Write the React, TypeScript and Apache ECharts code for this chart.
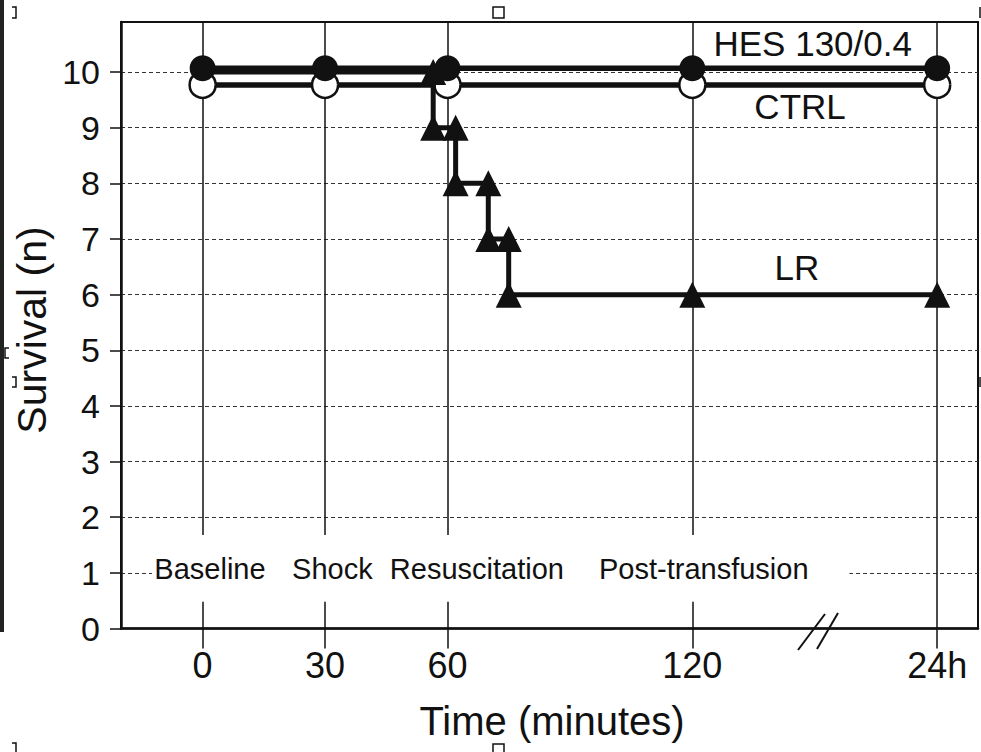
import React, { useEffect, useRef } from "react";
import * as echarts from "echarts";

// ---- data ----
const xTicks = [0, 30, 60, 120, 180];
const xTickLabels = ["0", "30", "60", "120", "24h"];
const yTicks = [0, 1, 2, 3, 4, 5, 6, 7, 8, 9, 10];

const hesTimes = [0, 30, 60, 120, 180];
const hesValues = [10.07, 10.07, 10.07, 10.07, 10.07];

const ctrlTimes = [0, 30, 60, 120, 180];
const ctrlValues = [9.77, 9.77, 9.77, 9.77, 9.77];

const lrTimes = [0, 30, 56.5, 56.5, 62, 62, 70, 70, 75, 75, 120, 180];
const lrValues = [10, 10, 10, 9, 9, 8, 8, 7, 7, 6, 6, 6];
const lrMarked = [false, false, true, true, true, true, true, true, true, true, true, true];

const phaseLabels = ["Baseline", "Shock", "Resuscitation", "Post-transfusion"];
const phaseX = [1.8, 31.8, 67.2, 122.8];
const phaseY = 1.07;

const seriesLabels = ["HES 130/0.4", "CTRL", "LR"];
const seriesLabelX = [149.5, 146.4, 145.6];
const seriesLabelY = [10.52, 9.39, 6.48];

const FONT = "'Liberation Sans', Arial, Helvetica, sans-serif";
const INK = "#111";

export default function App() {
  const ref = useRef<HTMLDivElement>(null);

  useEffect(() => {
    const chart = echarts.init(ref.current!, null, { renderer: "svg" });
    const option: any = {
      animation: false,
      backgroundColor: "#fff",
      grid: {
        left: 121,
        top: 22,
        right: 3,
        bottom: 123.5,
        show: true,
        borderColor: INK,
        borderWidth: 2,
        backgroundColor: "transparent",
      },
      xAxis: {
        type: "value",
        min: -20,
        max: 190,
        axisLine: { show: true, onZero: false, lineStyle: { color: INK, width: 2.5 } },
        axisTick: {
          show: true,
          customValues: xTicks,
          length: 20,
          lineStyle: { color: INK, width: 1.5 },
        },
        axisLabel: {
          customValues: xTicks,
          formatter: (v: number) => {
            const i = xTicks.indexOf(v);
            return i >= 0 ? xTickLabels[i] : "";
          },
          margin: 19,
          fontSize: 36,
          color: INK,
          fontFamily: FONT,
        },
        splitLine: { show: true, lineStyle: { color: INK, width: 1.5 } },
      },
      yAxis: {
        type: "value",
        min: 0,
        max: 10.9,
        interval: 1,
        axisLine: { show: true, onZero: false, lineStyle: { color: INK, width: 2.5 } },
        axisTick: {
          show: true,
          customValues: yTicks,
          length: 11,
          lineStyle: { color: INK, width: 1.5 },
        },
        axisLabel: {
          customValues: yTicks,
          margin: 21,
          fontSize: 34,
          color: INK,
          fontFamily: FONT,
        },
        splitLine: {
          show: true,
          lineStyle: { color: "#333", width: 1.2, type: [4, 3] },
        },
      },
      series: [
        {
          type: "line",
          name: "CTRL",
          data: ctrlTimes.map((t, i) => [t, ctrlValues[i]]),
          symbol: "circle",
          symbolSize: 26,
          showAllSymbol: true,
          lineStyle: { color: INK, width: 5.5 },
          itemStyle: { color: "#fff", borderColor: INK, borderWidth: 2.5 },
          z: 3,
        },
        {
          type: "line",
          name: "LR",
          data: lrTimes.map((t, i) => ({
            value: [t, lrValues[i]],
            symbol: lrMarked[i] ? "triangle" : "none",
          })),
          symbol: "triangle",
          symbolSize: 26,
          showAllSymbol: true,
          lineStyle: { color: INK, width: 5 },
          itemStyle: { color: INK },
          z: 4,
        },
        {
          type: "line",
          name: "HES 130/0.4",
          data: hesTimes.map((t, i) => [t, hesValues[i]]),
          symbol: "circle",
          symbolSize: 26,
          showAllSymbol: true,
          lineStyle: { color: INK, width: 5.5 },
          itemStyle: { color: INK },
          z: 5,
        },
      ],
    };
    chart.setOption(option);

    const px = (x: number, y: number) =>
      chart.convertToPixel({ gridIndex: 0 } as any, [x, y]) as number[];

    const b0 = px(-12.4, 1.68);
    const b1 = px(158.5, 0.48);

    const graphics: any[] = [
      {
        type: "rect",
        z: 1,
        shape: { x: b0[0], y: b0[1], width: b1[0] - b0[0], height: b1[1] - b0[1] },
        style: { fill: "#fff" },
        silent: true,
      },
    ];
    phaseLabels.forEach((t, i) => {
      const p = px(phaseX[i], phaseY);
      graphics.push({
        type: "text",
        z: 2,
        x: p[0],
        y: p[1],
        style: {
          text: t,
          fontSize: 29,
          fontFamily: FONT,
          fill: INK,
          align: "center",
          verticalAlign: "middle",
        },
      });
    });
    seriesLabels.forEach((t, i) => {
      const p = px(seriesLabelX[i], seriesLabelY[i]);
      graphics.push({
        type: "text",
        z: 10,
        x: p[0],
        y: p[1],
        style: {
          text: t,
          fontSize: 35,
          fontFamily: FONT,
          fill: INK,
          align: "center",
          verticalAlign: "middle",
        },
      });
    });
    // axis titles
    graphics.push({
      type: "text",
      z: 10,
      x: 552,
      y: 721,
      style: {
        text: "Time (minutes)",
        fontSize: 40,
        fontFamily: FONT,
        fill: INK,
        align: "center",
        verticalAlign: "middle",
      },
    });
    graphics.push({
      type: "text",
      z: 10,
      x: 32,
      y: 330,
      rotation: Math.PI / 2,
      style: {
        text: "Survival (n)",
        fontSize: 41,
        fontFamily: FONT,
        fill: INK,
        align: "center",
        verticalAlign: "middle",
      },
    });
    // axis break marks
    graphics.push({
      type: "line",
      z: 20,
      shape: { x1: 798, y1: 650, x2: 825, y2: 614 },
      style: { stroke: INK, lineWidth: 2 },
    });
    graphics.push({
      type: "line",
      z: 20,
      shape: { x1: 817, y1: 649, x2: 838, y2: 613 },
      style: { stroke: INK, lineWidth: 2 },
    });
    // scan artifacts: left edge bar and small selection handles
    graphics.push({
      type: "rect",
      z: 20,
      shape: { x: 0, y: 0, width: 4, height: 632 },
      style: { fill: "#222" },
    });
    const handleStyle = { stroke: "#111", lineWidth: 1.5, fill: "none" };
    const polys = [
      [[12, 7], [16, 7], [16, 18], [12, 18]],
      [[9, 348], [5, 348], [5, 358], [9, 358]],
      [[12, 377], [16, 377], [16, 387], [12, 387]],
      [[12, 743], [16, 743], [16, 752]],
      [[980, 7], [980, 18]],
      [[980, 377], [980, 387]],
    ];
    polys.forEach((pts) =>
      graphics.push({ type: "polyline", z: 20, shape: { points: pts }, style: handleStyle })
    );
    graphics.push({
      type: "rect",
      z: 20,
      shape: { x: 493, y: 7, width: 11, height: 11 },
      style: { stroke: "#111", lineWidth: 1.5, fill: "#fff" },
    });
    graphics.push({
      type: "rect",
      z: 20,
      shape: { x: 493, y: 744, width: 11, height: 11 },
      style: { stroke: "#111", lineWidth: 1.5, fill: "#fff" },
    });

    chart.setOption({ graphic: { elements: graphics } });

    return () => chart.dispose();
  }, []);

  return (
    <div
      ref={ref}
      style={{ position: "fixed", left: 0, top: 0, width: 981, height: 752, background: "#fff" }}
    />
  );
}
